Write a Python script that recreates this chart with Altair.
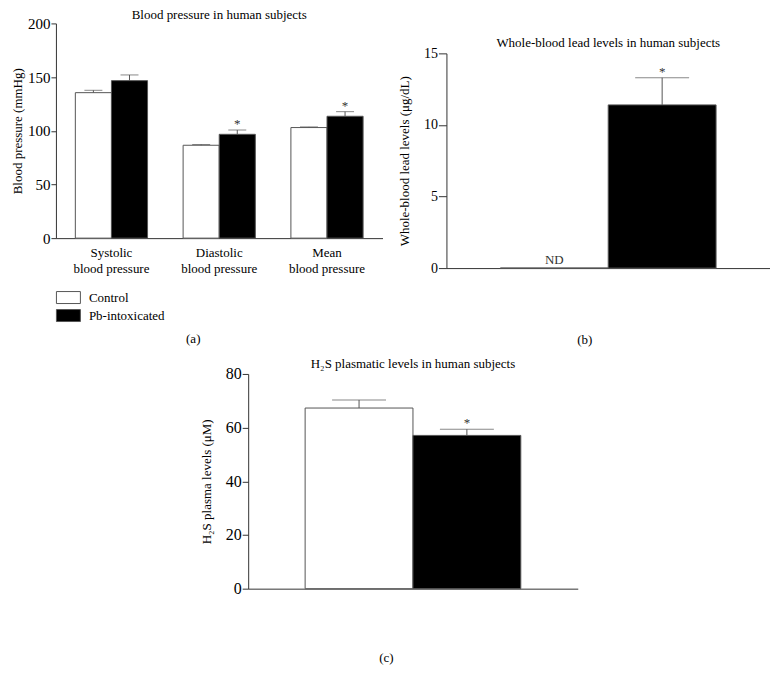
import altair as alt
import pandas as pd

FONT = "Liberation Serif"
INK = "#333333"
EDGE = "#555555"

groups = ["Control", "Pb-intoxicated"]
group_fills = ["white", "black"]

# (a) blood pressure
bp_categories = ["Systolic blood pressure", "Diastolic blood pressure", "Mean blood pressure"]
bp_control = [135.5, 86.5, 103.0]
bp_control_sem = [2.2, 0.7, 0.6]
bp_pb = [146.7, 96.7, 113.5]
bp_pb_sem = [5.3, 4.0, 4.3]
bp_pb_sig = ["", "*", "*"]
bp_ticks = [0, 50, 100, 150, 200]

# (b) whole-blood lead
lead_values = [0.0, 11.4]
lead_sem = [0.0, 1.9]
lead_notes = ["ND", "*"]
lead_ticks = [0, 5, 10, 15]

# (c) H2S plasma
h2s_values = [67.3, 57.1]
h2s_sem = [3.0, 2.3]
h2s_sig = ["", "*"]
h2s_ticks = [0, 20, 40, 60, 80]

rows = []
for i, c in enumerate(bp_categories):
    rows.append(dict(category=c, group=groups[0], value=bp_control[i],
                     top=bp_control[i] + bp_control_sem[i], sig=""))
    rows.append(dict(category=c, group=groups[1], value=bp_pb[i],
                     top=bp_pb[i] + bp_pb_sem[i], sig=bp_pb_sig[i]))
df_a = pd.DataFrame(rows)

df_b = pd.DataFrame(dict(group=groups, value=lead_values,
                         top=[v + s for v, s in zip(lead_values, lead_sem)],
                         note=lead_notes))
df_c = pd.DataFrame(dict(group=groups, value=h2s_values,
                         top=[v + s for v, s in zip(h2s_values, h2s_sem)],
                         sig=h2s_sig))


def legend(y):
    return alt.Legend(orient="none", legendX=6, legendY=y, title=None,
                      symbolType="M-2,-1H2V1H-2Z", symbolSize=144,
                      symbolStrokeColor=EDGE, symbolStrokeWidth=1,
                      labelFont=FONT, labelFontSize=13, labelColor="black",
                      labelOffset=14, rowPadding=1, padding=0, direction="vertical")


fill_scale = alt.Scale(domain=groups, range=group_fills)


def yaxis(title, ticks, label_size, tick_size, title_pad):
    return alt.Axis(title=title, values=ticks, grid=False, tickSize=tick_size, labelPadding=1,
                    titlePadding=title_pad, labelFontSize=label_size, titleFontSize=13)


def ttl(text, offset):
    return alt.TitleParams(text, font=FONT, fontSize=13, fontWeight="normal",
                           anchor="middle", offset=offset, color="black")


# ---------- panel (a)
ya_scale = alt.Scale(domain=[0, 200])
ya_axis = yaxis("Blood pressure (mmHg)", bp_ticks, 15, 5, 3)
xa = alt.X("category:N", sort=bp_categories,
           scale=alt.Scale(paddingInner=0.33, paddingOuter=0.18),
           axis=alt.Axis(title="(a)", labelExpr="[split(datum.label, ' ')[0], 'blood pressure']",
                         ticks=False, labelAngle=0, labelPadding=8, labelLineHeight=16,
                         labelFontSize=13, titleFontSize=13, titleX=137, titleY=105,
                         titleBaseline="alphabetic", titleAnchor="middle"))
xo = alt.XOffset("group:N", sort=groups, scale=alt.Scale(paddingInner=0, paddingOuter=0))
base_a = alt.Chart(df_a).encode(x=xa, xOffset=xo)
bars_a = base_a.mark_bar(stroke=EDGE, strokeWidth=1).encode(
    y=alt.Y("value:Q", scale=ya_scale, axis=ya_axis),
    fill=alt.Fill("group:N", scale=fill_scale, legend=legend(268)))
err_a = base_a.mark_rule(color=EDGE).encode(
    y=alt.Y("value:Q", scale=ya_scale, axis=ya_axis), y2="top:Q")
cap_a = base_a.mark_tick(color=EDGE, size=18, thickness=1).encode(
    y=alt.Y("top:Q", scale=ya_scale, axis=ya_axis))
star_a = base_a.mark_text(font=FONT, fontSize=13, baseline="alphabetic", dy=-2, color=INK).encode(
    y=alt.Y("top:Q", scale=ya_scale, axis=ya_axis), text="sig:N")
panel_a = alt.layer(bars_a, err_a, cap_a, star_a).properties(
    width=327, height=215, title=ttl("Blood pressure in human subjects", -6))

# ---------- panel (b)
yb_scale = alt.Scale(domain=[0, 15], range=[245, 30])
yb_axis = yaxis("Whole-blood lead levels (μg/dL)", lead_ticks, 14, 8, 12)
xb = alt.X("group:N", sort=groups, scale=alt.Scale(paddingInner=0, paddingOuter=0.5),
           axis=alt.Axis(title="(b)", labels=False, ticks=False, titleFontSize=13,
                         titleX=138, titleY=76, titleBaseline="alphabetic", titleAnchor="middle"))
base_b = alt.Chart(df_b).encode(x=xb)
bars_b = base_b.mark_bar(stroke=EDGE, strokeWidth=1).encode(
    y=alt.Y("value:Q", scale=yb_scale, axis=yb_axis),
    fill=alt.Fill("group:N", scale=fill_scale, legend=legend(268)))
pb_only = alt.datum.group == groups[1]
ctrl_only = alt.datum.group == groups[0]
err_b = base_b.transform_filter(pb_only).mark_rule(color=EDGE).encode(
    y=alt.Y("value:Q", scale=yb_scale, axis=yb_axis), y2="top:Q")
cap_b = base_b.transform_filter(pb_only).mark_tick(color=EDGE, size=54, thickness=1).encode(
    y=alt.Y("top:Q", scale=yb_scale, axis=yb_axis))
star_b = base_b.transform_filter(pb_only).mark_text(
    font=FONT, fontSize=13, baseline="alphabetic", dy=-2, color=INK).encode(
    y=alt.Y("top:Q", scale=yb_scale, axis=yb_axis), text="note:N")
nd_b = base_b.transform_filter(ctrl_only).mark_text(
    font=FONT, fontSize=13, baseline="alphabetic", dy=-4, color=INK).encode(
    y=alt.Y("value:Q", scale=yb_scale, axis=yb_axis), text="note:N")
panel_b = alt.layer(bars_b, err_b, cap_b, star_b, nd_b).properties(
    width=324, height=245, title=ttl("Whole-blood lead levels in human subjects", -27))

# ---------- panel (c)
yc_scale = alt.Scale(domain=[0, 80])
yc_axis = yaxis("H₂S plasma levels (μM)", h2s_ticks, 16, 6, 12)
xc = alt.X("group:N", sort=groups, scale=alt.Scale(paddingInner=0, paddingOuter=0.528),
           axis=alt.Axis(title="(c)", labels=False, ticks=False, titleFontSize=13,
                         titleX=138, titleY=73, titleBaseline="alphabetic", titleAnchor="middle"))
base_c = alt.Chart(df_c).encode(x=xc)
bars_c = base_c.mark_bar(stroke=EDGE, strokeWidth=1).encode(
    y=alt.Y("value:Q", scale=yc_scale, axis=yc_axis),
    fill=alt.Fill("group:N", scale=fill_scale, legend=legend(239)))
err_c = base_c.mark_rule(color=EDGE).encode(
    y=alt.Y("value:Q", scale=yc_scale, axis=yc_axis), y2="top:Q")
cap_c = base_c.mark_tick(color=EDGE, size=54, thickness=1).encode(
    y=alt.Y("top:Q", scale=yc_scale, axis=yc_axis))
star_c = base_c.mark_text(font=FONT, fontSize=13, baseline="alphabetic", dy=-2, color=INK).encode(
    y=alt.Y("top:Q", scale=yc_scale, axis=yc_axis), text="sig:N")
panel_c = alt.layer(bars_c, err_c, cap_c, star_c).properties(
    width=330, height=215, title=ttl("H₂S plasmatic levels in human subjects", -5))

top_row = alt.hconcat(panel_a, panel_b, spacing=16)
chart = alt.vconcat(top_row, panel_c, spacing=11, center=True).properties(
    padding={"left": 3, "top": 1, "right": 0, "bottom": 0}
).configure(font=FONT).configure_view(stroke=None).configure_axis(
    domainColor=INK, tickColor=INK, labelColor="black", titleColor="black",
    labelFont=FONT, titleFont=FONT, titleFontWeight="normal", grid=False
)

chart.save("out.html", embed_options={"renderer": "svg", "actions": False})
